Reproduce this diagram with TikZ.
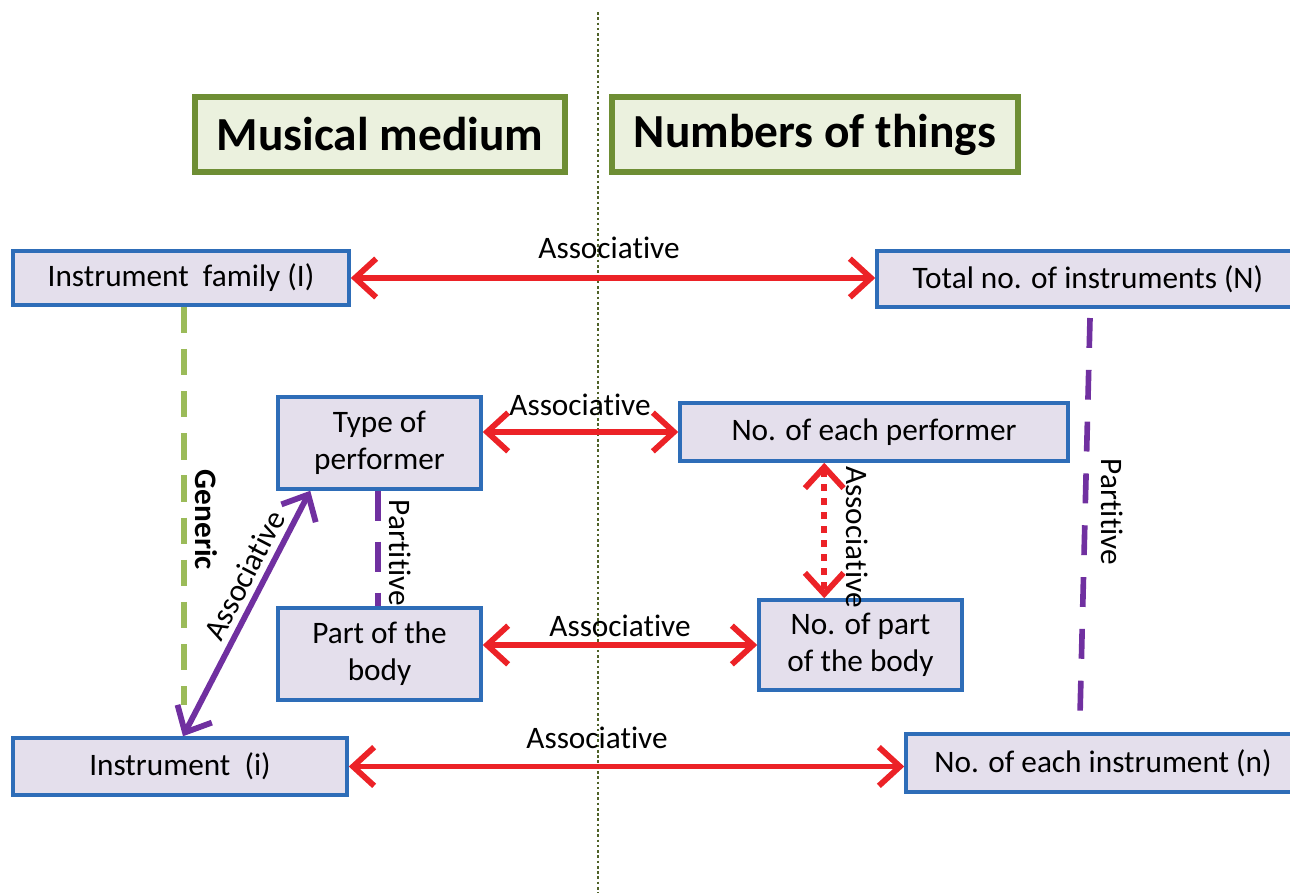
\documentclass[tikz,border=0pt]{standalone}
\usepackage{fontspec}
\setmainfont{Carlito}[Ligatures=NoCommon]
\usepackage{tikz}
\usetikzlibrary{arrows.meta,calc}
\definecolor{boxblue}{HTML}{2E6DB8}
\definecolor{boxfill}{HTML}{E4DFEC}
\definecolor{headgreen}{HTML}{6E8E34}
\definecolor{headfill}{HTML}{EBF1DE}
\definecolor{relred}{HTML}{EC2227}
\definecolor{relpurple}{HTML}{7030A0}
\definecolor{relgreen}{HTML}{9BBB59}
\definecolor{midgreen}{HTML}{4F6228}

\begin{document}
\begin{tikzpicture}[x=0.02cm,y=-0.02cm,
	head/.style={draw=headgreen, fill=headfill, line width=3.2pt, inner sep=0pt,
			font=\fontsize{27}{32}\selectfont\bfseries, minimum height=75*0.02cm},
	box/.style={draw=boxblue, fill=boxfill, line width=2pt, inner sep=0pt, align=center,
			font=\fontsize{17.8}{21}\selectfont},
	lbl/.style={font=\fontsize{17.8}{21}\selectfont},
	tips/.style={{Straight Barb[length=12pt,width=22pt]}-{Straight Barb[length=12pt,width=22pt]}},
	assoc/.style={draw=relred, line width=3.3pt, tips},
	]
	\useasboundingbox (0,0) rectangle (1290,893);

	% Dividing line
	\coordinate (top) at (598,12);
	\coordinate (bot) at (598,893);
	\draw [midgreen, line width=1.1pt, dash pattern=on 1.5pt off 1.5pt] (top) -- (bot);

	% Headings
	\node [head, minimum width=370*0.02cm] (medium) at (380,134.5) {Musical medium};
	\node [head, minimum width=406*0.02cm] (numbers) at (815,134.5) {Numbers of things};

	% Boxes
	\node [box, minimum width=336*0.02cm, minimum height=54*0.02cm] (fam) at (181,278) {Instrument\ \ family (I)};
	\node [box, minimum width=422*0.02cm, minimum height=56*0.02cm] (tot) at (1088,279) {Total no. of instruments (N)};
	\node [box, minimum width=203*0.02cm, minimum height=92*0.02cm] (typ) at (379.5,443) {Type of\\performer};
	\node [box, minimum width=388*0.02cm, minimum height=58*0.02cm] (eachp) at (874,432) {No. of each performer};
	\node [box, minimum width=203*0.02cm, minimum height=92*0.02cm] (part) at (379.5,654) {Part of the\\body};
	\node [box, minimum width=203*0.02cm, minimum height=90*0.02cm] (npart) at (860.5,645) {No. of part\\of the body};
	\node [box, minimum width=334*0.02cm, minimum height=57*0.02cm] (ins) at (180,766.5) {Instrument\ \ (i)};
	\node [box, minimum width=394*0.02cm, minimum height=58*0.02cm] (eachi) at (1103,763) {No. of each instrument (n)};

	% Associative links
	\draw [assoc] (fam.east) -- (fam.east -| tot.west);
	\node [lbl] (a1) at (609,248) {Associative};
	\draw [assoc] (typ.east |- eachp.west) -- (eachp.west);
	\node [lbl] (a2) at (580,405) {Associative};
	\draw [assoc] (part.east |- npart.west) -- (npart.west);
	\node [lbl] (a3) at (620,626) {Associative};
	\draw [assoc] (ins.east) -- (ins.east -| eachi.west);
	\node [lbl] (a4) at (597,738) {Associative};

	% Generic
	\coordinate (genend) at (184,705);
	\draw [relgreen, line width=3pt, dash pattern=on 15pt off 9pt] (fam.south -| genend) -- (genend);
	\node [lbl, font=\fontsize{17.8}{21}\selectfont\bfseries, rotate=-90] (gen) at (206,520) {Generic};

	% Type of performer to instrument
	\coordinate (ptop) at ($(typ.south west)+(34,0)$);
	\coordinate (pbot) at (ins.north -| 183,0);
	\draw [relpurple, line width=3.3pt, tips]
		(pbot) -- (ptop) node [lbl, black, pos=0.62, sloped, above] {Associative};

	% Partitive links
	\draw [relpurple, line width=3pt, dash pattern=on 17pt off 12pt] (typ.south -| 378,0) -- (part.north -| 378,0);
	\node [lbl, rotate=-90] (p1) at (400,553) {Partitive};
	\coordinate (rtop) at (1090,318);
	\coordinate (rbot) at (1080,715);
	\draw [relpurple, line width=3.2pt, dash pattern=on 17pt off 12.5pt] (rtop) -- (rbot);
	\node [lbl, rotate=-90] (p2) at (1112,512) {Partitive};

	% Performer count to body count
	\coordinate (dtop) at ($(eachp.south west)+(146,0)$);
	\draw [relred, line width=3.3pt, dash pattern=on 4pt off 4pt, tips]
		(dtop) -- (dtop |- npart.north);
	\node [lbl, rotate=-90] (a5) at (857,537) {Associative};
\end{tikzpicture}
\end{document}
